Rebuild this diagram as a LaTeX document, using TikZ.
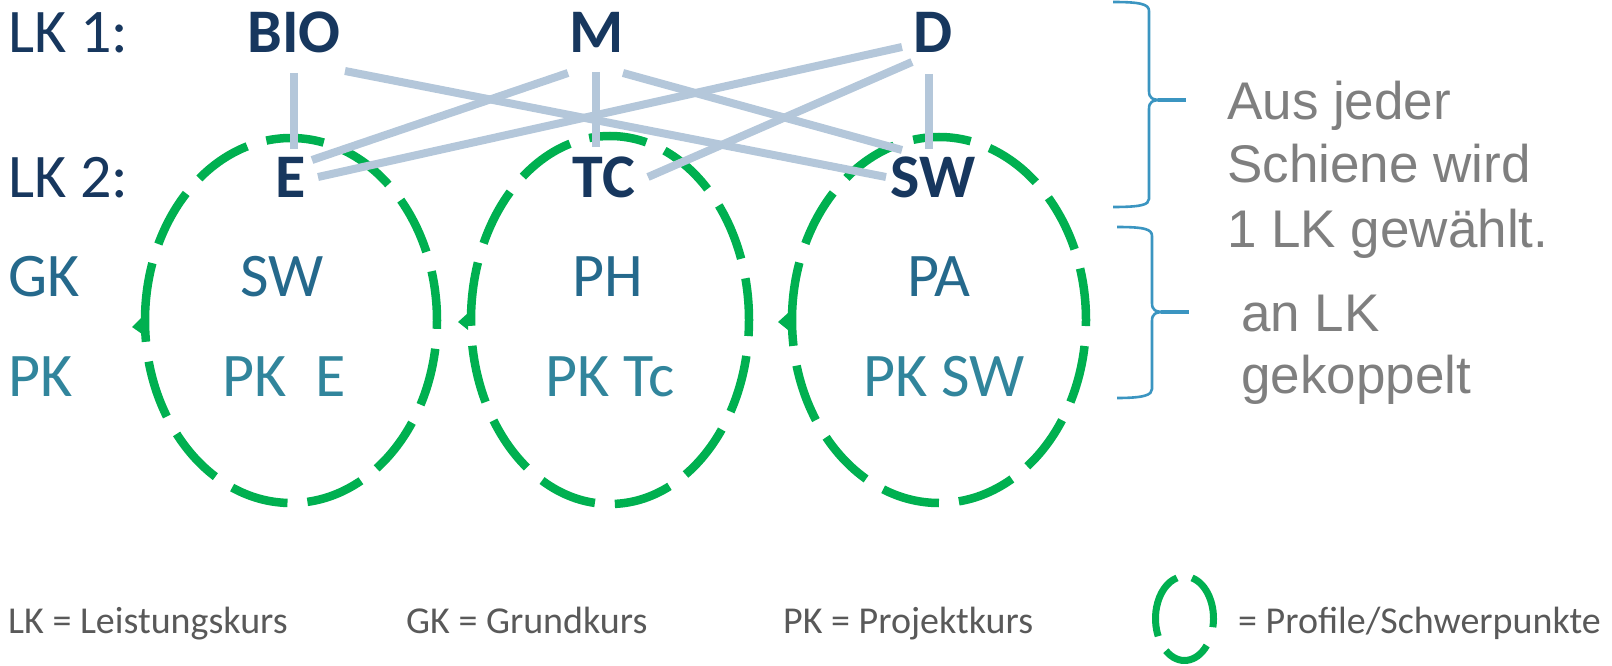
\documentclass[tikz,border=0pt]{standalone}
\usepackage{fontspec}
\setmainfont{Carlito}
\newfontfamily\arialf{Liberation Sans}
\definecolor{navy}{HTML}{17375E}
\definecolor{gkc}{HTML}{25698C}
\definecolor{pkc}{HTML}{31859C}
\definecolor{grn}{HTML}{00B050}
\definecolor{lnk}{HTML}{B4C7DA}
\definecolor{brc}{HTML}{3B95C1}
\definecolor{grayA}{HTML}{7F7F7F}
\definecolor{grayB}{HTML}{595959}
\begin{document}
\begin{tikzpicture}[x=1pt,y=1pt,
  big/.style={inner sep=0pt, font=\fontsize{62}{70}\selectfont},
  rowlab/.style={big, anchor=base west},
  lkc/.style={big, text=navy, anchor=base, font=\fontsize{62}{70}\selectfont\bfseries},
  gkt/.style={big, text=gkc, anchor=base},
  pkt/.style={big, text=pkc, anchor=base},
  note/.style={inner sep=0pt, anchor=base west, text=grayA, font=\fontsize{53}{60}\selectfont\arialf},
  legend/.style={inner sep=0pt, anchor=base west, text=grayB, font=\fontsize{38}{44}\selectfont},
  prof/.style={draw=grn, line width=8.5pt, dash pattern=on 58pt off 20pt},
  nub/.style={fill=grn, draw=none},
  link/.style={draw=lnk, line width=8pt},
  brace/.style={draw=brc, line width=2.6pt}]
\useasboundingbox (0,0) rectangle (1612,665);

% profile ellipses
\draw[prof] (291,344.5) ++(-146,0) arc[start angle=180, end angle=-180, x radius=146, y radius=182.5];
\draw[prof] (610,345) ++(-139,0) arc[start angle=180, end angle=-180, x radius=139, y radius=184];
\draw[prof] (939,345) ++(-147,0) arc[start angle=180, end angle=-180, x radius=147, y radius=183];
\fill[nub] (132,338) -- (142,348) -- (142,331) -- cycle;
\fill[nub] (458,343) -- (468,352) -- (468,335) -- cycle;
\fill[nub] (778,343) -- (788,352) -- (788,335) -- cycle;

% row labels
\node[rowlab, text=navy] (lk1) at (8,612) {LK 1:};
\node[rowlab, text=navy] (lk2) at (8,467) {LK 2:};
\node[rowlab, text=gkc] (gk) at (8,368) {GK};
\node[rowlab, text=pkc] (pk) at (8,269) {PK};

% LK 1
\node[lkc] (BIO) at (294,612) {BIO};
\node[lkc] (M) at (597,612) {M};
\node[lkc] (D) at (933,612) {D};
% LK 2
\node[lkc] (E) at (291,467) {E};
\node[lkc] (TC) at (604,467) {TC};
\node[lkc] (SW) at (933,467) {SW};
% GK
\node[gkt] (gk1) at (282,368) {SW};
\node[gkt] (gk2) at (608,368) {PH};
\node[gkt] (gk3) at (939,368) {PA};
% PK
\node[pkt] (pk1) at (284,269) {PK\ \ E};
\node[pkt] (pk2) at (610,269) {PK Tc};
\node[pkt] (pk3) at (944,269) {PK SW};

% connector end points
\coordinate (bioV) at (294,592);
\coordinate (eV) at (294,516);
\coordinate (bioR) at (345,594);
\coordinate (swL) at (886,488);
\coordinate (mL) at (568,592);
\coordinate (eR1) at (312,505);
\coordinate (dL1) at (902,618);
\coordinate (eR2) at (318,488);
\coordinate (mV) at (596,593);
\coordinate (tcV) at (596,518);
\coordinate (mR) at (623,592);
\coordinate (swT) at (902,515);
\coordinate (dL2) at (912,603);
\coordinate (tcR) at (648,488);
\coordinate (dV) at (929,591);
\coordinate (swV) at (929,516);

\draw[link] (bioV) -- (eV);
\draw[link] (bioR) -- (swL);
\draw[link] (mL) -- (eR1);
\draw[link] (dL1) -- (eR2);
\draw[link] (mV) -- (tcV);
\draw[link] (mR) -- (swT);
\draw[link] (dL2) -- (tcR);
\draw[link] (dV) -- (swV);

% braces
\draw[brace] (1113,663) .. controls (1140,663) and (1149,661) .. (1149,654) -- (1149,574)
  .. controls (1149,567) and (1152,565) .. (1162,565)
  .. controls (1152,565) and (1149,563) .. (1149,556) -- (1149,466)
  .. controls (1149,460) and (1140,458) .. (1113,458);
\coordinate (b1a) at (1158,565);
\coordinate (b1b) at (1186,565);
\draw[draw=brc, line width=4.5pt] (b1a) -- (b1b);
\draw[brace] (1117,438) .. controls (1144,438) and (1152,436) .. (1152,429) -- (1152,362)
  .. controls (1152,355) and (1155,353) .. (1165,353)
  .. controls (1155,353) and (1152,351) .. (1152,344) -- (1152,276)
  .. controls (1152,270) and (1144,267) .. (1117,267);
\coordinate (b2a) at (1161,353);
\coordinate (b2b) at (1189,353);
\draw[draw=brc, line width=4.5pt] (b2a) -- (b2b);

% notes
\node[note] (n1) at (1227,545) {Aus jeder};
\node[note] (n2) at (1227,482) {Schiene wird};
\node[note] (n3) at (1227,417) {1 LK gewählt.};
\node[note] (n4) at (1241,333) {an LK};
\node[note] (n5) at (1241,272) {gekoppelt};

% legend
\node[legend] (l1) at (8,32) {LK = Leistungskurs};
\node[legend] (l2) at (406,32) {GK = Grundkurs};
\node[legend] (l3) at (783,32) {PK = Projektkurs};
\draw[draw=grn, line width=7pt] (1184.5,46.5) ++(105:29 and 42) arc[start angle=105, end angle=205, x radius=29, y radius=42];
\draw[draw=grn, line width=7pt] (1184.5,46.5) ++(-12:29 and 42) arc[start angle=-12, end angle=75, x radius=29, y radius=42];
\draw[draw=grn, line width=7pt] (1184.5,46.5) ++(230:29 and 42) arc[start angle=230, end angle=320, x radius=29, y radius=42];
\node[legend] (l4) at (1238,32) {= Profile/Schwerpunkte};
\end{tikzpicture}
\end{document}
